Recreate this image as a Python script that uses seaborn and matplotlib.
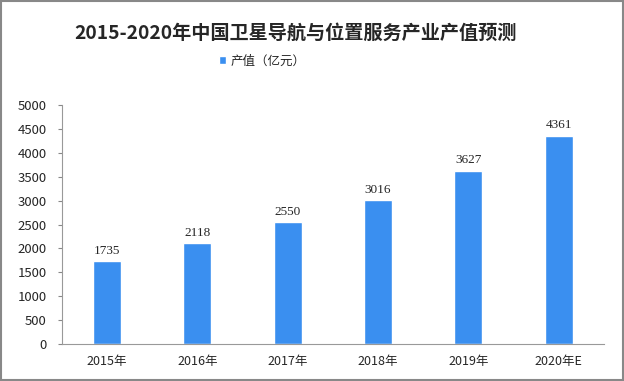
import matplotlib
matplotlib.use('Agg')
import matplotlib.pyplot as plt
import seaborn as sns
import pandas as pd
from matplotlib.patches import Rectangle

# chart data
years = ["2015年", "2016年", "2017年", "2018年", "2019年", "2020年E"]
values = [1735, 2118, 2550, 3016, 3627, 4361]
y_ticks = list(range(0, 5001, 500))

title = "2015-2020年中国卫星导航与位置服务产业产值预测"
series_name = "产值（亿元）"
bar_color = "#3a8ff0"

sns.set_style("white")
plt.rcParams['font.family'] = ['Noto Sans CJK SC', 'DejaVu Sans']

df = pd.DataFrame({"year": years, "value": values})

fig = plt.figure(figsize=(6.24, 3.81), dpi=100)
ax = fig.add_axes([0.099, 0.097, 0.869, 0.627])

sns.barplot(data=df, x="year", y="value", color=bar_color, width=0.31,
            saturation=1, ax=ax, label=series_name)

# value labels above bars
for i, v in enumerate(values):
    ax.text(i, v + 90, str(v), ha="center", va="bottom", fontsize=9.5,
            family=['Liberation Serif', 'DejaVu Serif'])

ax.set_ylim(0, 5000)
ax.set_yticks(y_ticks)
ax.set_xlabel("")
ax.set_ylabel("")
ax.tick_params(axis="y", labelsize=9.5, length=3, color="#888888", pad=8, left=True)
ax.tick_params(axis="x", labelsize=9, length=0, pad=8)
for s in ["top", "right"]:
    ax.spines[s].set_visible(False)
for s in ["left", "bottom"]:
    ax.spines[s].set_color("#999999")
    ax.spines[s].set_linewidth(0.8)

# legend under the title (drop the one seaborn puts in the axes)
handles, labels = ax.get_legend_handles_labels()
if ax.get_legend() is not None:
    ax.get_legend().remove()
fig.legend(handles, labels, loc="center", bbox_to_anchor=(0.42, 0.84), frameon=False,
           fontsize=9, handlelength=0.6, handleheight=0.6, handletextpad=0.3)

fig.text(0.473, 0.913, title, ha="center", va="center", fontsize=13.8, fontweight="bold")

# border around the image
fig.patches.append(Rectangle((0.002, 0.003), 0.996, 0.994, transform=fig.transFigure,
                             fill=False, edgecolor="#888888", linewidth=1.5))

fig.savefig("out.png", dpi=100)
